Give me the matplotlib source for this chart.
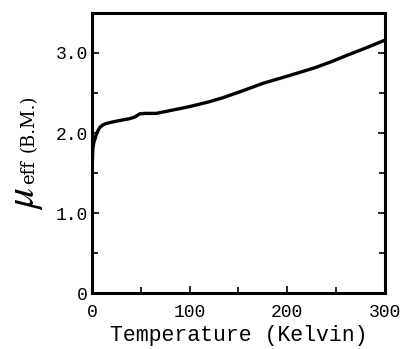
import numpy as np
import matplotlib
matplotlib.use("Agg")
import matplotlib.pyplot as plt
from matplotlib.ticker import MultipleLocator, FuncFormatter

# Effective moment vs temperature
temperature = [0.3, 1.0, 2.0, 3.1, 5.0, 8.2, 11.0, 15.0, 22.0, 30.0, 38.9, 44.0,
               49.0, 55.0, 66.0, 80.0, 100.0, 120.0, 134.0, 155.0, 175.0,
               200.0, 227.0, 245.0, 261.0, 280.0, 300.0]
mu_eff = [1.55, 1.80, 1.88, 1.92, 2.00, 2.07, 2.10, 2.12, 2.14, 2.16, 2.18, 2.20,
          2.24, 2.245, 2.245, 2.28, 2.33, 2.39, 2.44, 2.53, 2.62,
          2.71, 2.81, 2.89, 2.97, 3.06, 3.16]

x_ticks = [0, 100, 200, 300]
y_ticks = [0, 1.0, 2.0, 3.0]

FONT = "Liberation Mono"

fig = plt.figure(figsize=(4.01, 3.49), dpi=100)
ax = fig.add_axes([0.229, 0.160, 0.731, 0.803])

ax.plot(temperature, mu_eff, color="black", linewidth=2.4,
        solid_capstyle="round", solid_joinstyle="round")

ax.set_xlim(0, 300)
ax.set_ylim(0, 3.5)
ax.set_xticks(x_ticks)
ax.set_yticks(y_ticks)
ax.xaxis.set_minor_locator(MultipleLocator(50))
ax.yaxis.set_minor_locator(MultipleLocator(0.5))
ax.xaxis.set_major_formatter(FuncFormatter(lambda v, _: f"{v:.0f}"))
ax.yaxis.set_major_formatter(FuncFormatter(lambda v, _: "0" if v == 0 else f"{v:.1f}"))

ax.tick_params(which="both", direction="in", right=True, top=False,
               width=1.2, labelsize=13)
ax.tick_params(axis="x", pad=8)
ax.tick_params(axis="y", pad=3)
ax.tick_params(which="major", length=5)
ax.tick_params(which="minor", length=4)
for lbl in ax.get_xticklabels() + ax.get_yticklabels():
    lbl.set_family(FONT)

for s in ax.spines.values():
    s.set_linewidth(2.2)

ax.set_xlabel("Temperature (Kelvin)", fontsize=15.5, family=FONT, labelpad=3)

# y label: big italic mu, small subscript, then units
fig.text(0.060, 0.432, r"$\mu$", rotation=90, fontsize=30,
         ha="center", va="center", math_fontfamily="stix")
fig.text(0.072, 0.508, "eff", rotation=90, fontsize=13, family="DejaVu Serif",
         ha="center", va="center")
fig.text(0.072, 0.648, "(B.M.)", rotation=90, fontsize=13,
         family="DejaVu Serif", ha="center", va="center")

fig.savefig("out.png", dpi=100)
